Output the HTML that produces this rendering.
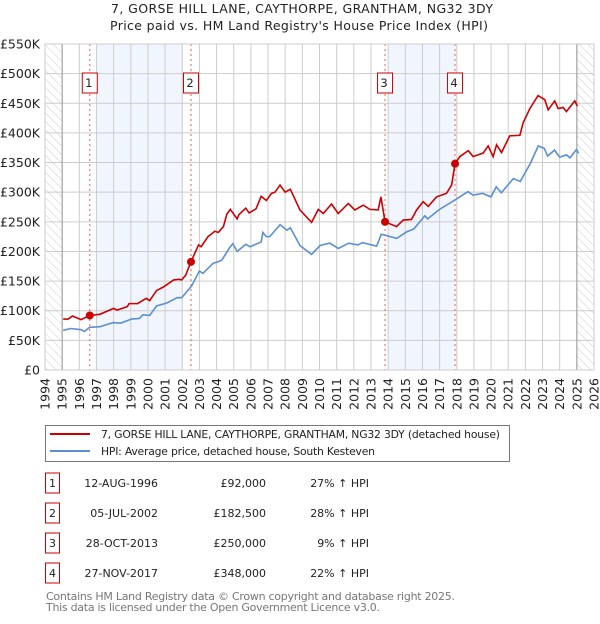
<!DOCTYPE html>
<html><head><meta charset="utf-8"><style>
body{margin:0;background:#fff;font-family:"DejaVu Sans","Liberation Sans",sans-serif;}
svg text{font-family:"DejaVu Sans","Liberation Sans",sans-serif;}
</style></head><body>
<svg id="c" width="600" height="620" xmlns="http://www.w3.org/2000/svg">
<defs><pattern id="hatch" width="6" height="6" patternUnits="userSpaceOnUse" patternTransform="rotate(-45)"><line x1="0" y1="0" x2="0" y2="6" stroke="#ccc" stroke-width="1"/></pattern></defs>
<text x="111" y="13" font-size="12.5" fill="#222" textLength="382" lengthAdjust="spacing">7, GORSE HILL LANE, CAYTHORPE, GRANTHAM, NG32 3DY</text>
<text x="110" y="30" font-size="12.5" fill="#222" textLength="378" lengthAdjust="spacing">Price paid vs. HM Land Registry's House Price Index (HPI)</text>
<g id="plot"></g>
<g>
<rect x="45.5" y="425.5" width="464" height="36" fill="#fff" stroke="#777"/>
<line x1="50" y1="434" x2="90" y2="434" stroke="#cc0000" stroke-width="2"/>
<text x="101" y="438" font-size="10.8" fill="#222" textLength="399" lengthAdjust="spacing">7, GORSE HILL LANE, CAYTHORPE, GRANTHAM, NG32 3DY (detached house)</text>
<line x1="50" y1="451" x2="90" y2="451" stroke="#5b8fd4" stroke-width="2"/>
<text x="101" y="455" font-size="10.8" fill="#222" textLength="274" lengthAdjust="spacing">HPI: Average price, detached house, South Kesteven</text>
</g>
<g id="table" font-size="11" fill="#222"></g>
<text x="46" y="600" font-size="11" fill="#777" textLength="409" lengthAdjust="spacing">Contains HM Land Registry data © Crown copyright and database right 2025.</text>
<text x="46" y="611" font-size="11" fill="#777" textLength="334" lengthAdjust="spacing">This data is licensed under the Open Government Licence v3.0.</text>
</svg>
<script>
const yTicks=[0,50,100,150,200,250,300,350,400,450,500,550];
const yTickLabels=["£0","£50K","£100K","£150K","£200K","£250K","£300K","£350K","£400K","£450K","£500K","£550K"];
const years=[1994,1995,1996,1997,1998,1999,2000,2001,2002,2003,2004,2005,2006,2007,2008,2009,2010,2011,2012,2013,2014,2015,2016,2017,2018,2019,2020,2021,2022,2023,2024,2025,2026];
const hpiYears=[1995.06,1995.5,1996.1,1996.3,1996.6,1997.2,1997.98,1998.4,1999.05,1999.5,1999.7,2000.1,2000.5,2001.1,2001.7,2001.97,2002.55,2003.0,2003.2,2003.8,2004.3,2004.75,2004.95,2005.2,2005.7,2005.95,2006.6,2006.7,2006.9,2007.1,2007.7,2008.1,2008.3,2008.86,2009.54,2010.03,2010.6,2011.1,2011.7,2012.24,2012.5,2013.33,2013.6,2014.5,2015.08,2015.5,2016.14,2016.3,2017.0,2017.9,2018.65,2018.95,2019.5,2020.0,2020.3,2020.6,2021.3,2021.7,2022.3,2022.75,2023.1,2023.3,2023.7,2024.0,2024.4,2024.6,2024.98,2025.1];
const hpiValues=[67,70,68,65,72,73,80,79,86,87,93,92,108,113,122,122,142,167,163,180,185,206,213,200,212,208,216,232,225,225,245,236,240,210,195,210,214,205,214,211,215,209,229,222,233,238,260,255,271,287,301,295,298,292,309,299,323,318,349,378,374,361,371,359,363,358,372,366];
const priceYears=[1995.06,1995.35,1995.6,1996.1,1996.6,1997.2,1998.0,1998.2,1998.8,1998.9,1999.4,1999.9,2000.1,2000.5,2000.9,2001.5,2001.8,2001.97,2002.2,2002.5,2002.95,2003.1,2003.5,2003.9,2004.1,2004.4,2004.6,2004.8,2005.2,2005.3,2005.7,2005.9,2006.3,2006.6,2006.9,2007.2,2007.4,2007.7,2008.0,2008.3,2008.86,2009.54,2009.93,2010.22,2010.7,2011.09,2011.68,2012.06,2012.55,2012.94,2013.42,2013.58,2013.82,2014.49,2014.88,2015.36,2015.66,2016.04,2016.34,2016.82,2017.4,2017.7,2017.9,2018.18,2018.67,2018.96,2019.54,2019.83,2020.12,2020.32,2020.61,2021.09,2021.68,2021.87,2022.26,2022.74,2023.13,2023.33,2023.71,2023.91,2024.2,2024.39,2024.88,2025.03];
const priceValues=[86,86,91,85,92,94,104,101,107,112,112,121,117,134,140,152,153,152,160,182,211,208,225,234,232,242,263,271,255,262,273,265,272,293,286,298,300,312,300,305,270,249,271,264,280,264,281,270,278,271,270,292,250,242,253,254,270,284,276,292,298,312,348,360,370,360,366,378,360,380,367,395,396,417,441,463,456,439,454,441,443,436,454,445];
const saleYears=[1996.61,2002.51,2013.82,2017.9];
const saleValues=[92,182.5,250,348];
const saleLabels=["1","2","3","4"];
const saleDates=["12-AUG-1996","05-JUL-2002","28-OCT-2013","27-NOV-2017"];
const salePrices=["£92,000","£182,500","£250,000","£348,000"];
const saleHpi=["27% ↑ HPI","28% ↑ HPI","9% ↑ HPI","22% ↑ HPI"];
const shadeStart=[1997.0,2014.0];
const shadeEnd=[2002.0,2017.9];

const NS="http://www.w3.org/2000/svg";
const L=45,R=594,T=44,B=370;
const X=y=>L+(y-1994)/32*(R-L);
const Y=v=>B-v/550*(B-T);
function mk(t,a,p){const e=document.createElementNS(NS,t);for(const k in a)e.setAttribute(k,a[k]);(p||g).appendChild(e);return e;}
const g=document.getElementById('plot');
mk('rect',{x:L,y:T,width:R-L,height:B-T,fill:'#fff'});
for(let i=0;i<shadeStart.length;i++){
 const r=mk('rect',{x:X(shadeStart[i]),y:T,width:X(shadeEnd[i])-X(shadeStart[i]),height:B-T,fill:'#eef3fc',opacity:0.8});
 
 
}
years.forEach(y=>{mk('line',{x1:X(y),y1:T,x2:X(y),y2:B,stroke:'#ccc','stroke-width':1});
 const t=mk('text',{transform:`translate(${X(y)+4.5},378) rotate(-90)`,'text-anchor':'end','font-size':12.5,fill:'#222'});t.textContent=y;
 
 
});
yTicks.forEach((v,i)=>{mk('line',{x1:L,y1:Y(v),x2:R,y2:Y(v),stroke:'#ccc','stroke-width':1});
 const t=mk('text',{x:40,y:Y(v)+4.5,'text-anchor':'end','font-size':12.5,fill:'#222'});t.textContent=yTickLabels[i];
 
 
});
mk('rect',{x:L,y:T,width:X(1995)-L,height:B-T,fill:'url(#hatch)'});
mk('rect',{x:X(2025),y:T,width:R-X(2025),height:B-T,fill:'url(#hatch)'});
mk('line',{x1:X(1995),y1:T,x2:X(1995),y2:B,stroke:'#999','stroke-width':1});
mk('line',{x1:X(2025),y1:T,x2:X(2025),y2:B,stroke:'#999','stroke-width':1});
saleYears.forEach((s,i)=>{
 mk('line',{x1:X(s),y1:T,x2:X(s),y2:B,stroke:'#e06060','stroke-width':1,'stroke-dasharray':'2,3'});
 const b=mk('rect',{x:X(s)-7.5,y:73,width:15,height:20,fill:'#fff',stroke:'#cc0000'});
 
 
 const t=mk('text',{x:X(s)-1,y:87,'text-anchor':'middle','font-size':11.5,fill:'#222'});t.textContent=saleLabels[i];
});
const hp=mk('polyline',{points:hpiYears.map((y,i)=>X(y)+','+Y(hpiValues[i])).join(' '),fill:'none',stroke:'#5b8fd4','stroke-width':1.6});


const pp=mk('polyline',{points:priceYears.map((y,i)=>X(y)+','+Y(priceValues[i])).join(' '),fill:'none',stroke:'#cc0000','stroke-width':1.6});


saleYears.forEach((s,i)=>{const c=mk('circle',{cx:X(s),cy:Y(saleValues[i]),r:4,fill:'#cc0000'});
 
 
});
mk('rect',{x:L,y:T,width:R-L,height:B-T,fill:'none',stroke:'#ccc'});
const tb=document.getElementById('table');
const rowY=[483,513,543,573];
rowY.forEach((ry,i)=>{
 const r=mk('rect',{x:45.5,y:ry-10,width:14,height:20,fill:'#fff',stroke:'#cc0000'},tb);
 
 
 let t=mk('text',{x:52.5,y:ry+4,'text-anchor':'middle'},tb);t.textContent=saleLabels[i];
 t=mk('text',{x:158,y:ry+4,'text-anchor':'end'},tb);t.textContent=saleDates[i];
 
 
 t=mk('text',{x:266,y:ry+4,'text-anchor':'end'},tb);t.textContent=salePrices[i];
 
 
 t=mk('text',{x:369,y:ry+4,'text-anchor':'end'},tb);t.textContent=saleHpi[i];
 
 
});
</script>
</body></html>
